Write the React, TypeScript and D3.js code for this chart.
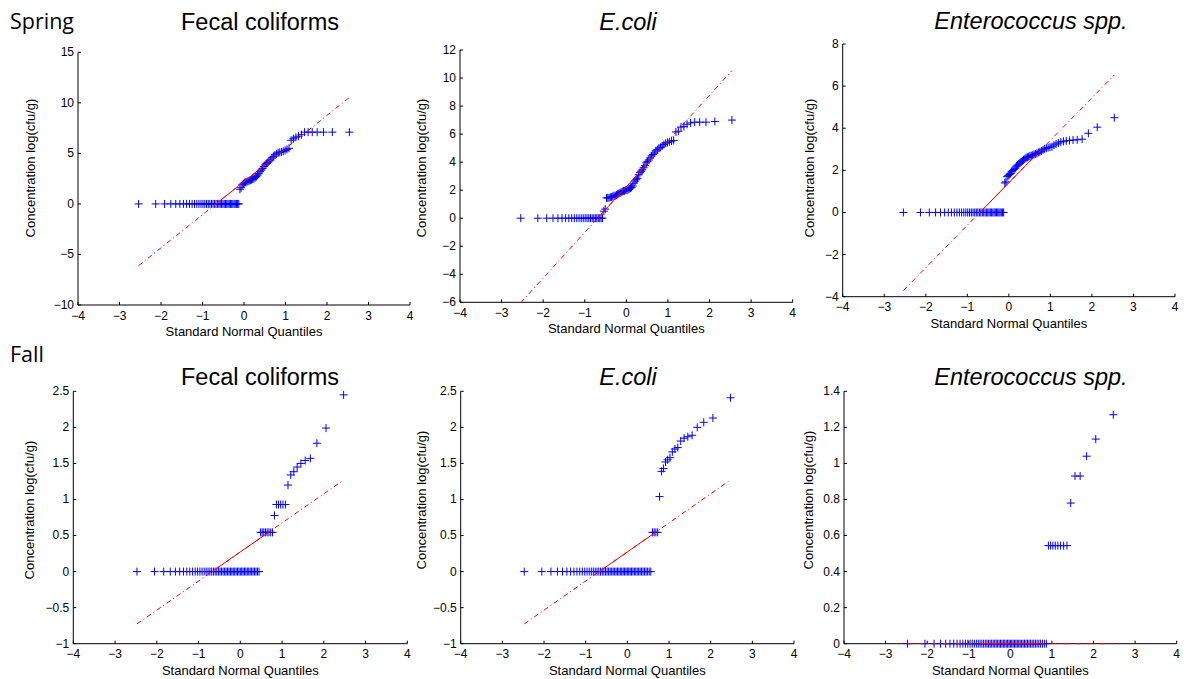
import React from 'react';
import * as d3 from 'd3';

// ---- Data (sorted sample values) ----
const springFecal = [
  0, 0, 0, 0, 0, 0, 0, 0, 0, 0, 0, 0, 0, 0, 0, 0, 0, 0, 0, 0,
  0, 0, 0, 0, 0, 0, 0, 0, 0, 0, 0, 0, 0, 0, 0, 0, 0, 0, 0, 0, 0,
  1.45, 1.6, 1.9, 2.0, 2.1, 2.15, 2.2, 2.25, 2.3, 2.35, 2.4, 2.45, 2.5, 2.6, 2.7, 2.85,
  3.0, 3.2, 3.35, 3.5, 3.7, 3.85, 4.0, 4.1, 4.25, 4.35, 4.55, 4.7, 4.85, 4.95, 5.05, 5.1,
  5.15, 5.2, 5.3, 5.4, 5.5, 6.3, 6.45, 6.6, 6.7, 6.85,
  7.1, 7.1, 7.1, 7.1, 7.1, 7.1, 7.1,
];
const springEcoli = [
  0, 0, 0, 0, 0, 0, 0, 0, 0, 0, 0, 0, 0, 0, 0, 0, 0, 0, 0, 0, 0, 0, 0, 0, 0, 0,
  0.5, 0.65, 1.45, 1.45, 1.45, 1.5, 1.5, 1.55, 1.6, 1.6, 1.65, 1.7, 1.75, 1.8, 1.85, 1.9,
  1.95, 1.95, 2.0, 2.0, 2.05, 2.1, 2.15, 2.2, 2.3, 2.5, 2.65, 2.75, 2.85, 3.1, 3.25, 3.35,
  3.45, 3.6, 3.75, 3.95, 4.05, 4.15, 4.3, 4.45, 4.55, 4.65, 4.8, 4.9, 5.0, 5.05, 5.15, 5.25,
  5.35, 5.4, 5.45, 5.5, 5.55, 6.15, 6.2, 6.5, 6.55, 6.7, 6.8, 6.85, 6.85, 6.85, 6.9, 7.0,
];
const springEntero = [
  0, 0, 0, 0, 0, 0, 0, 0, 0, 0, 0, 0, 0, 0, 0, 0, 0, 0, 0, 0,
  0, 0, 0, 0, 0, 0, 0, 0, 0, 0, 0, 0, 0, 0, 0, 0, 0, 0, 0, 0, 0,
  1.4, 1.45, 1.7, 1.75, 1.8, 1.85, 1.95, 2.0, 2.05, 2.1, 2.2, 2.25, 2.3, 2.35, 2.4, 2.45,
  2.5, 2.55, 2.6, 2.62, 2.65, 2.68, 2.7, 2.72, 2.75, 2.78, 2.8, 2.85, 2.88, 2.92, 2.97, 3.02,
  3.05, 3.08, 3.1, 3.12, 3.2, 3.25, 3.3, 3.35, 3.38, 3.4, 3.42, 3.44, 3.45, 3.48, 3.76, 4.05, 4.5,
];
const fallFecal = [
  0, 0, 0, 0, 0, 0, 0, 0, 0, 0, 0, 0, 0, 0, 0, 0, 0, 0, 0, 0, 0, 0, 0, 0, 0,
  0, 0, 0, 0, 0, 0, 0, 0, 0, 0, 0, 0, 0, 0, 0, 0, 0, 0, 0, 0, 0, 0, 0, 0, 0, 0,
  0.544, 0.544, 0.544, 0.544, 0.544, 0.544, 0.544, 0.544, 0.778,
  0.93, 0.93, 0.93, 0.93, 0.93, 1.2, 1.34, 1.385, 1.45, 1.5, 1.54, 1.57, 1.78, 1.99, 2.45,
];
const fallEcoli = [
  0, 0, 0, 0, 0, 0, 0, 0, 0, 0, 0, 0, 0, 0, 0, 0, 0, 0, 0, 0, 0, 0, 0, 0, 0, 0, 0,
  0, 0, 0, 0, 0, 0, 0, 0, 0, 0, 0, 0, 0, 0, 0, 0, 0, 0, 0, 0, 0, 0, 0, 0, 0, 0, 0,
  0.544, 0.544, 0.544, 0.544, 1.04, 1.39, 1.43, 1.52, 1.55, 1.58, 1.66, 1.7, 1.72, 1.81,
  1.85, 1.87, 1.89, 2.0, 2.07, 2.13, 2.41,
];
const fallEntero = [
  0, 0, 0, 0, 0, 0, 0, 0, 0, 0, 0, 0, 0, 0, 0, 0, 0, 0, 0, 0, 0, 0, 0, 0, 0, 0, 0, 0, 0, 0, 0,
  0, 0, 0, 0, 0, 0, 0, 0, 0, 0, 0, 0, 0, 0, 0, 0, 0, 0, 0, 0, 0, 0, 0, 0, 0, 0, 0, 0, 0, 0,
  0.544, 0.544, 0.544, 0.544, 0.544, 0.544, 0.544, 0.544,
  0.78, 0.93, 0.93, 1.04, 1.135, 1.27,
];

// Reference-line quartiles (first / third sample quartile)
const fitQ1 = [0, 0.05, 0.05, 0, 0, 0];
const fitQ3 = [4.42, 4.45, 2.77, 0.544, 0.544, 0];

const titles = ['Fecal coliforms', 'E.coli', 'Enterococcus spp.', 'Fecal coliforms', 'E.coli', 'Enterococcus spp.'];
const italicTitle = [false, true, true, false, true, true];
const xTicks = [-4, -3, -2, -1, 0, 1, 2, 3, 4];
const yTicks1 = [-10, -5, 0, 5, 10, 15];
const yTicks2 = [-6, -4, -2, 0, 2, 4, 6, 8, 10, 12];
const yTicks3 = [-4, -2, 0, 2, 4, 6, 8];
const yTicksFall = [-1, -0.5, 0, 0.5, 1, 1.5, 2, 2.5];
const yTicks6 = [0, 0.2, 0.4, 0.6, 0.8, 1, 1.2, 1.4];
const rowLabels = ['Spring', 'Fall'];

const datasets = [springFecal, springEcoli, springEntero, fallFecal, fallEcoli, fallEntero];
const yTickSets = [yTicks1, yTicks2, yTicks3, yTicksFall, yTicksFall, yTicks6];

// layout (pixel frames)
const frames = [
  { l: 78, r: 410, t: 52.3, b: 305, titleX: 260, titleY: 30, labOff: 43.5, labY: 168 },
  { l: 460, r: 792.7, t: 50, b: 302.3, titleX: 628, titleY: 29.5, labOff: 34, labY: 168 },
  { l: 842.7, r: 1175, t: 44, b: 296.7, titleX: 1031, titleY: 29, labOff: 29, labY: 168 },
  { l: 73.3, r: 407.3, t: 391.3, b: 643.7, titleX: 260, titleY: 385, labOff: 39, labY: 510 },
  { l: 460.7, r: 794, t: 391.3, b: 643.7, titleX: 628, titleY: 385, labOff: 35, labY: 500 },
  { l: 844, r: 1176.7, t: 391.3, b: 643.7, titleX: 1031, titleY: 385, labOff: 31, labY: 500 },
];

// inverse standard normal CDF (theoretical quantiles of the Q-Q plot)
function probit(p: number): number {
  const a = [-3.969683028665376e1, 2.209460984245205e2, -2.759285104469687e2, 1.38357751867269e2, -3.066479806614716e1, 2.506628277459239];
  const b = [-5.447609879822406e1, 1.615858368580409e2, -1.556989798598866e2, 6.680131188771972e1, -1.328068155288572e1];
  const c = [-7.784894002430293e-3, -3.223964580411365e-1, -2.400758277161838, -2.549732539343734, 4.374664141464968, 2.938163982698783];
  const d = [7.784695709041462e-3, 3.224671290700398e-1, 2.445134137142996, 3.754408661907416];
  const pl = 0.02425;
  if (p < pl) {
    const q = Math.sqrt(-2 * Math.log(p));
    return (((((c[0] * q + c[1]) * q + c[2]) * q + c[3]) * q + c[4]) * q + c[5]) / ((((d[0] * q + d[1]) * q + d[2]) * q + d[3]) * q + 1);
  }
  if (p <= 1 - pl) {
    const q = p - 0.5;
    const r = q * q;
    return ((((((a[0] * r + a[1]) * r + a[2]) * r + a[3]) * r + a[4]) * r + a[5]) * q) / (((((b[0] * r + b[1]) * r + b[2]) * r + b[3]) * r + b[4]) * r + 1);
  }
  const q = Math.sqrt(-2 * Math.log(1 - p));
  return -(((((c[0] * q + c[1]) * q + c[2]) * q + c[3]) * q + c[4]) * q + c[5]) / ((((d[0] * q + d[1]) * q + d[2]) * q + d[3]) * q + 1);
}

const fmt = (v: number) => {
  const s = String(Math.round(v * 100) / 100);
  return s.replace('-', '\u2212');
};

const FONT = '"Liberation Sans", Arial, Helvetica, sans-serif';

function Panel({ idx }: { idx: number }) {
  const f = frames[idx];
  const data = datasets[idx];
  const yt = yTickSets[idx];
  const n = data.length;
  const x = d3.scaleLinear().domain([-4, 4]).range([f.l, f.r]);
  const y = d3.scaleLinear().domain([yt[0], yt[yt.length - 1]]).range([f.b, f.t]);
  const pts = data.map((v, i) => ({ q: probit((i + 0.5) / n), v }));
  const qx1 = probit(0.25);
  const qx3 = probit(0.75);
  const slope = (fitQ3[idx] - fitQ1[idx]) / (qx3 - qx1);
  const lineAt = (q: number) => fitQ1[idx] + (q - qx1) * slope;
  const xmin = pts[0].q;
  const xmax = pts[n - 1].q;
  const line = d3.line<number>().x((q) => x(q)).y((q) => y(lineAt(q)));
  const plusPath = pts
    .map((p) => {
      const cx = x(p.q);
      const cy = y(p.v);
      return `M${cx - 4},${cy}H${cx + 4}M${cx},${cy - 4}V${cy + 4}`;
    })
    .join('');
  return (
    <g>
      <text
        x={f.titleX}
        y={f.titleY}
        textAnchor="middle"
        fontFamily={FONT}
        fontSize={23.5}
        fontStyle={italicTitle[idx] ? 'italic' : 'normal'}
        fill="#000"
      >
        {titles[idx]}
      </text>
      {/* axes */}
      <path d={`M${f.l},${f.t}V${f.b}H${f.r}`} fill="none" stroke="#000" strokeWidth={1} />
      {xTicks.map((t) => (
        <g key={'x' + t}>
          <line x1={x(t)} x2={x(t)} y1={f.b} y2={f.b - 3} stroke="#000" strokeWidth={1} />
          <text x={x(t)} y={f.b + 14.6} textAnchor="middle" fontFamily={FONT} fontSize={12} fill="#000">
            {fmt(t)}
          </text>
        </g>
      ))}
      {yt.map((t) => (
        <g key={'y' + t}>
          <line x1={f.l} x2={f.l + 3} y1={y(t)} y2={y(t)} stroke="#000" strokeWidth={1} />
          <text x={f.l - 4} y={y(t)} dy="0.33em" textAnchor="end" fontFamily={FONT} fontSize={12} fill="#000">
            {fmt(t)}
          </text>
        </g>
      ))}
      <text x={(f.l + f.r) / 2} y={f.b + 31} textAnchor="middle" fontFamily={FONT} fontSize={13} fill="#000">
        Standard Normal Quantiles
      </text>
      <text
        transform={`translate(${f.l - f.labOff},${f.labY}) rotate(-90)`}
        textAnchor="middle"
        fontFamily={FONT}
        fontSize={13}
        fill="#000"
      >
        Concentration log(cfu/g)
      </text>
      {/* data */}
      <path d={plusPath} fill="none" stroke="#0000ff" strokeWidth={1} />
      {/* reference line */}
      <path d={line([xmin, xmax]) || ''} fill="none" stroke="#ff0000" strokeWidth={1} strokeDasharray="5,3,1,3" />
      <path d={line([qx1, qx3]) || ''} fill="none" stroke="#ff0000" strokeWidth={1} />
    </g>
  );
}

export default function App() {
  return (
    <svg
      width={1187}
      height={679}
      style={{ position: 'absolute', left: 0, top: 0, background: '#fff' }}
    >
      <rect width={1187} height={679} fill="#fff" />
      <text x={10} y={28.5} fontFamily='"Open Sans", sans-serif' fontSize={21.5} fill="#000">
        {rowLabels[0]}
      </text>
      <text x={10} y={362} fontFamily='"Open Sans", sans-serif' fontSize={21.5} fill="#000">
        {rowLabels[1]}
      </text>
      {frames.map((_, i) => (
        <Panel key={i} idx={i} />
      ))}
    </svg>
  );
}
